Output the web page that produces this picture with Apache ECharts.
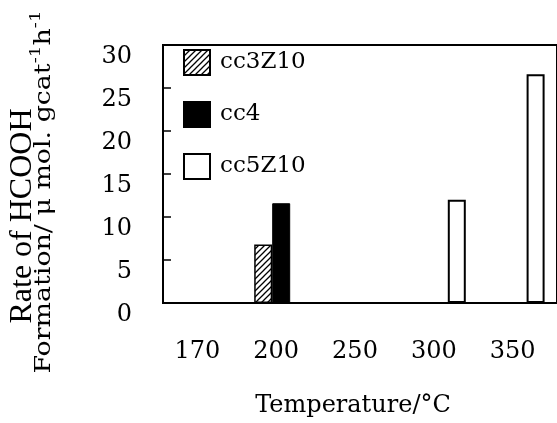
<!DOCTYPE html>
<html>
<head>
<meta charset="utf-8">
<script src="https://cdn.jsdelivr.net/npm/echarts@6/dist/echarts.min.js"></script>
<style>
  html, body { margin: 0; padding: 0; background: #fff; }
  #chart { width: 557px; height: 423px; }
</style>
</head>
<body>
<div id="chart"></div>
<script>
// data
const temperatures = ["170", "200", "250", "300", "350"];
const cc3Z10 = [null, 6.8, null, null, null];
const cc4 = [null, 11.6, null, null, null];
const cc5Z10 = [null, null, null, 12.0, 26.6];
const yTicks = [0, 5, 10, 15, 20, 25, 30];

// diagonal hatch for cc3Z10
function hatch() {
  const c = document.createElement("canvas");
  c.width = 6;
  c.height = 6;
  const g = c.getContext("2d");
  g.fillStyle = "#fff";
  g.fillRect(0, 0, 6, 6);
  g.strokeStyle = "#000";
  g.lineWidth = 1.3;
  g.beginPath();
  g.moveTo(-1, 7); g.lineTo(7, -1);
  g.moveTo(-1, 1); g.lineTo(1, -1);
  g.moveTo(5, 7); g.lineTo(7, 5);
  g.stroke();
  return c;
}

const serif = "DejaVu Serif";
const chart = echarts.init(document.getElementById("chart"));

chart.setOption({
  animation: false,
  backgroundColor: "#fff",
  grid: {
    left: 163, width: 400, top: 45, bottom: 117,
    show: true, borderColor: "#000", borderWidth: 2, backgroundColor: "transparent"
  },
  legend: {
    orient: "vertical",
    left: 178, top: 44,
    itemWidth: 26, itemHeight: 25, itemGap: 25,
    icon: "rect",
    textStyle: { fontFamily: serif, fontSize: 23, color: "#000", padding: [0, 0, 0, 5] },
    data: ["cc3Z10", "cc4", "cc5Z10"]
  },
  xAxis: {
    type: "category",
    data: temperatures,
    axisLine: { lineStyle: { color: "#000", width: 2 } },
    axisTick: { inside: true, length: 7, lineStyle: { color: "#000", width: 1.5 } },
    axisLabel: { margin: 37, fontFamily: serif, fontSize: 24, color: "#000", padding: [0, 10, 0, 0] },
    name: "Temperature/°C",
    nameLocation: "middle",
    nameGap: 91,
    nameTextStyle: { fontFamily: serif, fontSize: 24, color: "#000", padding: [0, 14, 0, 0] }
  },
  yAxis: {
    type: "value",
    min: yTicks[0], max: yTicks[yTicks.length - 1], interval: 5,
    splitLine: { show: false },
    axisLine: { show: true, lineStyle: { color: "#000", width: 2 } },
    axisTick: { show: true, inside: true, length: 8, lineStyle: { color: "#000", width: 1.5 } },
    axisLabel: { margin: 31, fontFamily: serif, fontSize: 24, color: "#000", verticalAlign: "top" }
  },
  series: [
    {
      name: "cc3Z10", type: "bar", data: cc3Z10, barWidth: 18, barGap: 0,
      itemStyle: { color: { image: hatch(), repeat: "repeat" }, borderColor: "#000", borderWidth: 1.5 }
    },
    {
      name: "cc4", type: "bar", data: cc4, barWidth: 18, barGap: 0,
      itemStyle: { color: "#000", borderColor: "#000", borderWidth: 1 }
    },
    {
      name: "cc5Z10", type: "bar", data: cc5Z10, barWidth: 18, barGap: 0,
      itemStyle: { color: "#fff", borderColor: "#000", borderWidth: 2 }
    }
  ],
  graphic: [
    {
      type: "text", x: 23, y: 216, rotation: Math.PI / 2,
      style: {
        text: "Rate of HCOOH", fill: "#000",
        font: "32px 'Liberation Serif'", align: "center", verticalAlign: "middle"
      }
    },
    {
      type: "text", x: 44, y: 192, rotation: Math.PI / 2, scaleX: 1.22,
      style: {
        text: "Formation/ μ mol. gcat{s|-1}h{s|-1}", fill: "#000",
        fontFamily: serif, fontSize: 22, lineHeight: 30,
        align: "center", verticalAlign: "middle",
        rich: {
          s: { fontFamily: serif, fontSize: 15, verticalAlign: "top", lineHeight: 30 }
        }
      }
    }
  ]
});
</script>
</body>
</html>
